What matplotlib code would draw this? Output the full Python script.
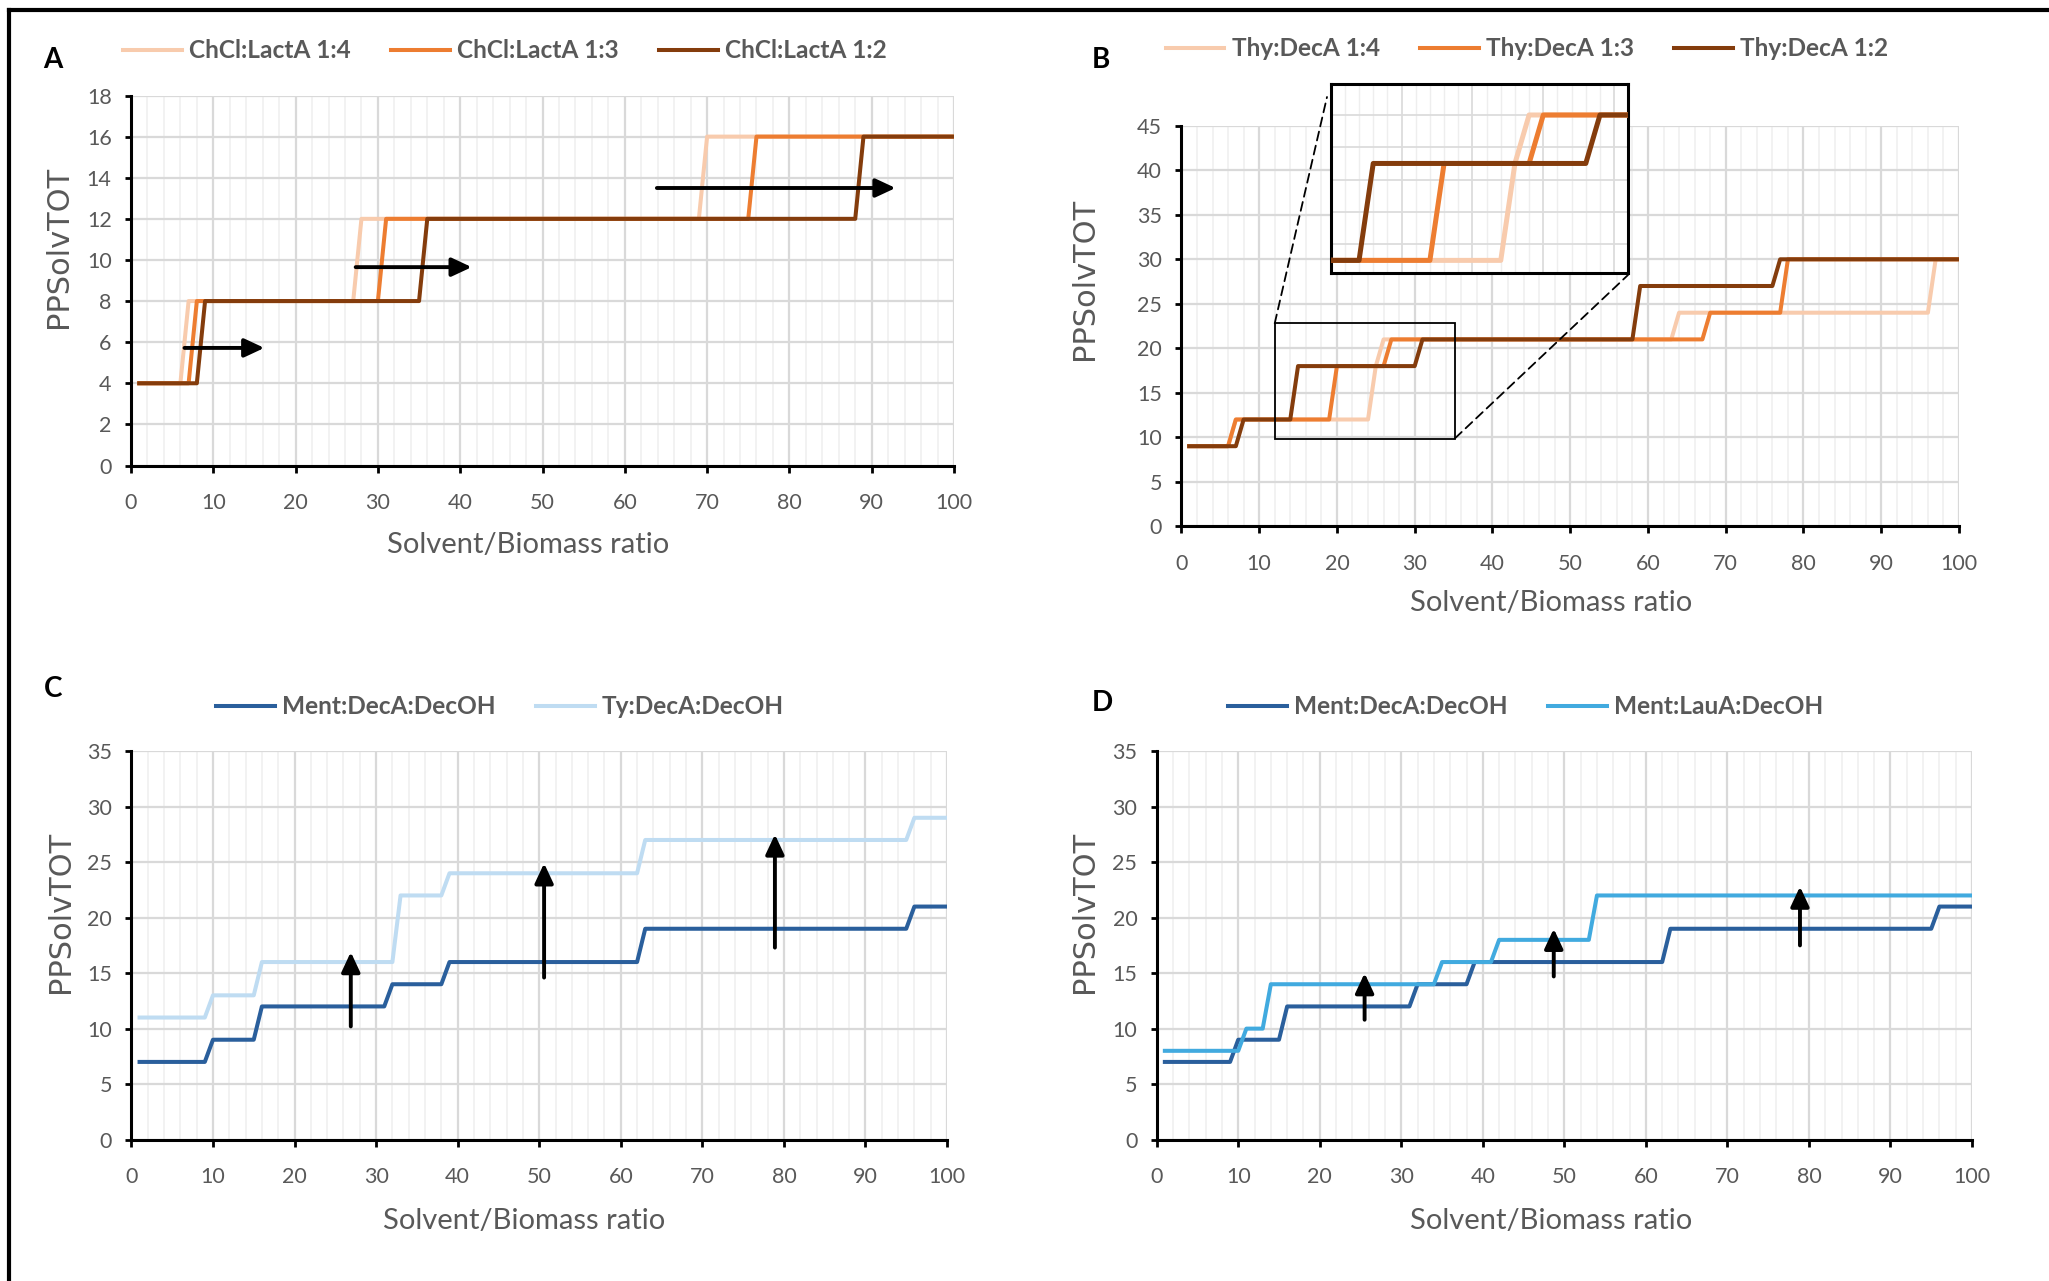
import matplotlib
matplotlib.use('Agg')
import matplotlib.pyplot as plt
from matplotlib.lines import Line2D
from matplotlib.patches import Rectangle, ConnectionPatch
from matplotlib.ticker import MultipleLocator

# ---------------- data (step levels) ----------------
ratio = list(range(1, 101))          # Solvent/Biomass ratio sampled 1..100

# Panel A: level values and the ratio at which each new level starts
A_labels = ['ChCl:LactA 1:4', 'ChCl:LactA 1:3', 'ChCl:LactA 1:2']
A_levels_14 = [4, 8, 12, 16]; A_change_14 = [7, 28, 70]
A_levels_13 = [4, 8, 12, 16]; A_change_13 = [8, 31, 76]
A_levels_12 = [4, 8, 12, 16]; A_change_12 = [9, 36, 89]

# Panel B
B_labels = ['Thy:DecA 1:4', 'Thy:DecA 1:3', 'Thy:DecA 1:2']
B_levels_14 = [9, 12, 18, 21, 24, 30]; B_change_14 = [7, 25, 26, 64, 97]
B_levels_13 = [9, 12, 18, 21, 24, 30]; B_change_13 = [7, 20, 27, 68, 78]
B_levels_12 = [9, 12, 18, 21, 27, 30]; B_change_12 = [8, 15, 31, 59, 77]

# Panel C
C_labels = ['Ment:DecA:DecOH', 'Ty:DecA:DecOH']
C_levels_ment = [7, 9, 12, 14, 16, 19, 21]; C_change_ment = [10, 16, 32, 39, 63, 96]
C_levels_ty = [11, 13, 16, 22, 24, 27, 29]; C_change_ty = [10, 16, 33, 39, 63, 96]

# Panel D
D_labels = ['Ment:DecA:DecOH', 'Ment:LauA:DecOH']
D_levels_ment = [7, 9, 12, 14, 16, 19, 21]; D_change_ment = [10, 16, 32, 39, 63, 96]
D_levels_lau = [8, 10, 14, 16, 18, 22]; D_change_lau = [11, 14, 35, 42, 54]

# annotation arrows (start -> tip) in data units
A_arrows = [((6.5, 5.72), (16.2, 5.72)), ((27.3, 9.65), (41.4, 9.65)), ((63.9, 13.5), (92.9, 13.5))]
C_arrows = [((26.9, 10.2), (26.9, 16.9)), ((50.6, 14.6), (50.6, 24.9)), ((78.9, 17.3), (78.9, 27.5))]
D_arrows = [((25.5, 10.8), (25.5, 15.0)), ((48.7, 14.7), (48.7, 19.0)), ((78.9, 17.5), (78.9, 22.8))]


def steps(levels, changes):
    out = []
    for xi in ratio:
        k = sum(1 for c in changes if xi >= c)
        out.append(levels[k])
    return out

# ---------------- styling ----------------
W, H = 2049, 1281
fig = plt.figure(figsize=(W / 100, H / 100), dpi=100)
TXT = '#595959'
FONT = 'Lato'
PEACH, ORANGE, BROWN = '#f8cbad', '#ed7d31', '#843c0c'
DBLUE, LBLUE, MBLUE = '#2a5f9c', '#bfdcf2', '#41aadf'
LW = 2.9


def px_rect(l, r, t, b):
    return [l / W, 1 - b / H, (r - l) / W, (b - t) / H]


def style_axes(ax, ymax, ystep):
    ax.set_xlim(0, 100)
    ax.set_ylim(0, ymax)
    ax.xaxis.set_major_locator(MultipleLocator(10))
    ax.xaxis.set_minor_locator(MultipleLocator(2))
    ax.yaxis.set_major_locator(MultipleLocator(ystep))
    ax.grid(which='major', color='#d9d9d9', lw=1.6, zorder=0)
    ax.grid(which='minor', axis='x', color='#efefef', lw=1.1, zorder=0)
    ax.set_axisbelow(True)
    for s in ['top', 'right']:
        ax.spines[s].set_visible(False)
    for s in ['left', 'bottom']:
        ax.spines[s].set_color('black')
        ax.spines[s].set_linewidth(2.2)
    ax.tick_params(axis='x', which='major', direction='out', length=5, width=2, color='black',
                   pad=15, labelsize=15.5, labelcolor=TXT)
    ax.tick_params(axis='y', which='major', direction='out', length=4, width=2, color='black',
                   pad=10, labelsize=15.5, labelcolor=TXT)
    ax.tick_params(which='minor', length=0)
    for lab in ax.get_xticklabels() + ax.get_yticklabels():
        lab.set_fontfamily(FONT)


def fig_text(x, y, s, **kw):
    fig.text(x / W, 1 - y / H, s, **kw)


def legend(handles, labels, cx, cy, ncol):
    fig.legend(handles, labels, loc='center', bbox_to_anchor=(cx / W, 1 - cy / H), ncol=ncol,
               frameon=False, prop=dict(family=FONT, weight='bold', size=17.6), labelcolor=TXT,
               handlelength=2.4, handletextpad=0.3, columnspacing=1.65)


def arrows(ax, arr):
    for (x0, y0), (x1, y1) in arr:
        ax.annotate('', xy=(x1, y1), xytext=(x0, y0),
                    arrowprops=dict(arrowstyle='-|>,head_length=0.6,head_width=0.28', lw=2.8,
                                    color='black', shrinkA=0, shrinkB=0, mutation_scale=20),
                    zorder=6)

# ---------------- panel A ----------------
axA = fig.add_axes(px_rect(131, 954, 95.5, 465.5))
hA = []
for lv, ch, c in [(A_levels_14, A_change_14, PEACH), (A_levels_13, A_change_13, ORANGE),
                  (A_levels_12, A_change_12, BROWN)]:
    hA.append(axA.plot(ratio, steps(lv, ch), color=c, lw=LW, zorder=3)[0])
style_axes(axA, 18, 2)
arrows(axA, A_arrows)
legend(hA, A_labels, 505, 51, 3)

# ---------------- panel B ----------------
axB = fig.add_axes(px_rect(1181.4, 1959, 125.8, 526.3))
B_series = [(B_levels_14, B_change_14, PEACH), (B_levels_13, B_change_13, ORANGE),
            (B_levels_12, B_change_12, BROWN)]
hB = []
for lv, ch, c in B_series:
    hB.append(axB.plot(ratio, steps(lv, ch), color=c, lw=LW, zorder=3)[0])
style_axes(axB, 45, 5)
legend(hB, B_labels, 1527, 49, 3)
axB.add_patch(Rectangle((12, 9.85), 23.2, 12.95, fill=False, ec='black', lw=1.3, zorder=5))

# inset (magnified view)
axI = fig.add_axes(px_rect(1330.7, 1628.3, 84.3, 273.3))
for lv, ch, c in B_series:
    axI.plot(ratio, steps(lv, ch), color=c, lw=3.6, zorder=3)
axI.set_xlim(12, 33)
axI.set_ylim(11.2, 22.9)
axI.set_xticks([17, 22, 27, 32])
axI.set_xticks(list(range(13, 33)), minor=True)
axI.set_yticks([13, 15, 17, 19, 21])
axI.grid(which='major', color='#dcdcdc', lw=1.3, zorder=0)
axI.grid(which='minor', axis='x', color='#eeeeee', lw=1.0, zorder=0)
axI.set_axisbelow(True)
axI.tick_params(which='both', length=0, labelbottom=False, labelleft=False)
for s in axI.spines.values():
    s.set_linewidth(2.2)
    s.set_color('black')

for (xa, ya), (xb, yb) in [((12, 22.8), (1327, 97)), ((35.2, 9.9), (1628, 275))]:
    con = ConnectionPatch(xyA=(xa, ya), coordsA=axB.transData,
                          xyB=(xb / W, 1 - yb / H), coordsB=fig.transFigure,
                          linestyle=(0, (5, 3)), color='black', lw=1.3)
    fig.add_artist(con)

# ---------------- panel C ----------------
axC = fig.add_axes(px_rect(131.4, 947, 751.2, 1139.6))
hC = [axC.plot(ratio, steps(C_levels_ment, C_change_ment), color=DBLUE, lw=LW, zorder=3)[0],
      axC.plot(ratio, steps(C_levels_ty, C_change_ty), color=LBLUE, lw=LW, zorder=3)[0]]
style_axes(axC, 35, 5)
arrows(axC, C_arrows)
legend(hC, C_labels, 500, 707, 2)

# ---------------- panel D ----------------
axD = fig.add_axes(px_rect(1156.7, 1972, 751.2, 1139.6))
hD = [axD.plot(ratio, steps(D_levels_ment, D_change_ment), color=DBLUE, lw=LW, zorder=3)[0],
      axD.plot(ratio, steps(D_levels_lau, D_change_lau), color=MBLUE, lw=LW, zorder=3)[0]]
style_axes(axD, 35, 5)
arrows(axD, D_arrows)
legend(hD, D_labels, 1526, 707, 2)

# ---------------- axis titles & panel letters ----------------
for (yx, yy), (xx, xy) in [((59, 247), (528, 545)), ((1085, 279), (1551, 603)),
                           ((61, 912), (524, 1221)), ((1085, 912), (1551, 1221))]:
    fig_text(yx, yy, 'PPSolvTOT', rotation=90, ha='center', va='center', color=TXT,
             family='DejaVu Sans', fontsize=22)
    fig_text(xx, xy, 'Solvent/Biomass ratio', ha='center', va='center', color=TXT,
             family=FONT, fontsize=21)

for x, y, s in [(53, 60, 'A'), (1101, 60, 'B'), (53, 689, 'C'), (1102, 703, 'D')]:
    fig_text(x, y, s, ha='center', va='center', color='black', family=FONT,
             fontweight='bold', fontsize=20)

# outer frame (top and left edges visible)
fig.add_artist(Line2D([9 / W, 9 / W], [0, 1 - 10 / H], transform=fig.transFigure, color='black', lw=3))
fig.add_artist(Line2D([9 / W, 1], [1 - 10 / H, 1 - 10 / H], transform=fig.transFigure, color='black', lw=3))

fig.savefig('out.png', dpi=100, facecolor='white')
